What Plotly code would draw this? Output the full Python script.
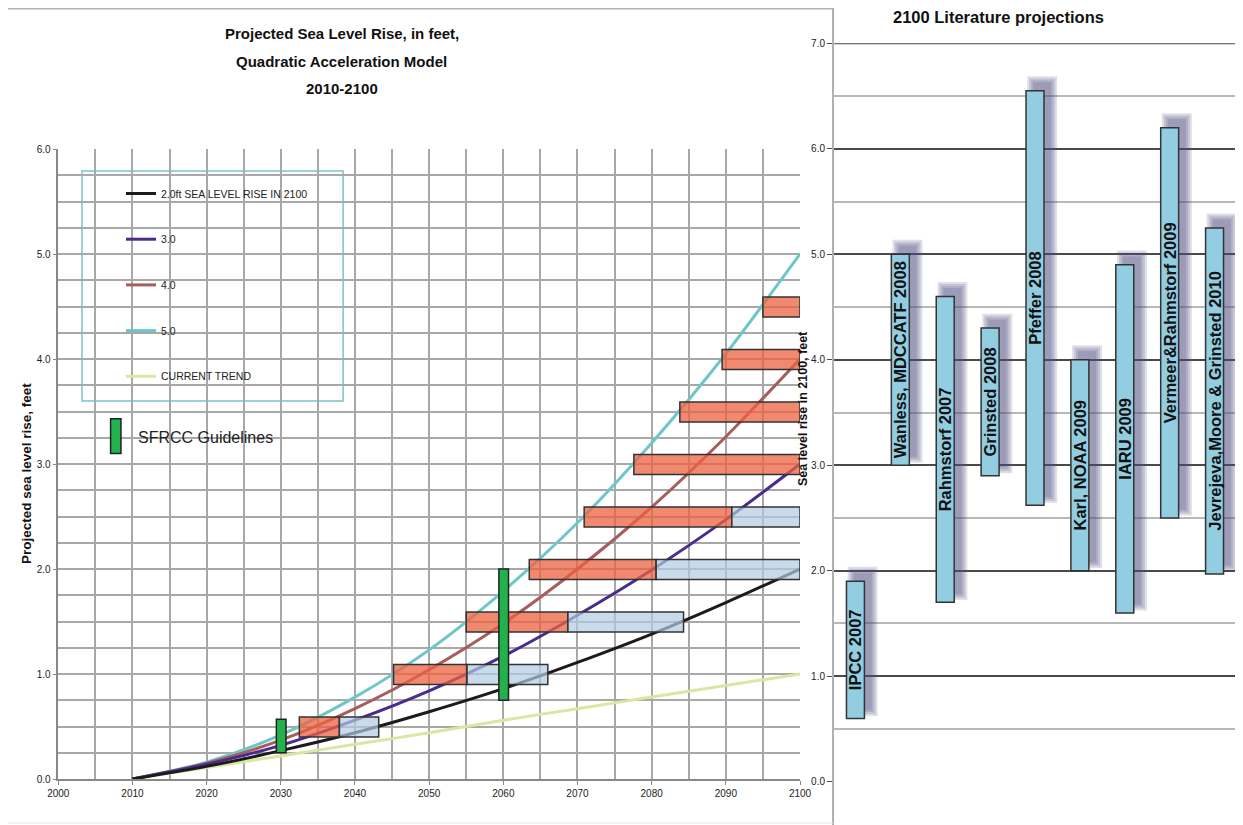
import plotly.graph_objects as go

W, H = 1243, 825

# left chart: quadratic acceleration curves, read every 10 years
years = [2010, 2020, 2030, 2040, 2050, 2060, 2070, 2080, 2090, 2100]
rise_2ft = [0.0, 0.12, 0.27, 0.44, 0.64, 0.86, 1.11, 1.38, 1.68, 2.0]
rise_3ft = [0.0, 0.14, 0.32, 0.56, 0.84, 1.17, 1.56, 1.99, 2.47, 3.0]
rise_4ft = [0.0, 0.15, 0.37, 0.67, 1.04, 1.48, 2.0, 2.59, 3.26, 4.0]
rise_5ft = [0.0, 0.16, 0.42, 0.78, 1.23, 1.79, 2.44, 3.2, 4.05, 5.0]
rise_trend = [0.0, 0.11, 0.22, 0.33, 0.44, 0.56, 0.67, 0.78, 0.89, 1.0]

# timing boxes: year each level is reached on the 5 ft, 3 ft and 2 ft curves
box_levels = [0.5, 1.0, 1.5, 2.0, 2.5, 3.0, 3.5, 4.0, 4.5]
box_start = [2032.5, 2045.2, 2055.0, 2063.5, 2070.9, 2077.6, 2083.8, 2089.5, 2095.0]
box_split = [2037.9, 2055.1, 2068.7, 2080.6, 2090.8, 2100, 2100, 2100, 2100]
box_end = [2043.2, 2066.0, 2084.3, 2100, 2100, 2100, 2100, 2100, 2100]

# SFRCC guideline ranges
sfrcc_years = [2030, 2060]
sfrcc_low = [0.25, 0.75]
sfrcc_high = [0.57, 2.0]

# right chart: 2100 literature projections
studies = ["IPCC 2007", "Wanless, MDCCATF 2008", "Rahmstorf 2007", "Grinsted 2008",
           "Pfeffer 2008", "Karl, NOAA 2009", "IARU 2009", "Vermeer&Rahmstorf 2009",
           "Jevrejeva,Moore & Grinsted 2010"]
study_low = [0.6, 3.0, 1.7, 2.9, 2.62, 2.0, 1.6, 2.5, 1.97]
study_high = [1.9, 5.0, 4.6, 4.3, 6.55, 4.0, 4.9, 6.2, 5.25]

# the page puts the figure 8px in from the top-left corner
OFF = 8


def px(x):
    return (x - OFF) / W


def py(y):
    return min(1.0, 1 - (y - OFF) / H)


FONT = "Liberation Sans, Arial"

fig = go.Figure()

curves = [
    ("CURRENT TREND", rise_trend, "#d9e7a3", 5),
    ("5.0", rise_5ft, "#6fc6c6", 4),
    ("4.0", rise_4ft, "#a85d5d", 3),
    ("3.0", rise_3ft, "#4a2b8e", 2),
    ("2.0ft SEA LEVEL RISE IN 2100", rise_2ft, "#1b1b1b", 1),
]
for name, vals, color, rank in curves:
    fig.add_trace(go.Scatter(
        x=years, y=vals, name=name, mode="lines",
        line=dict(color=color, width=3, shape="spline", smoothing=0.8),
        legendgroup=name, legendrank=rank, xaxis="x", yaxis="y",
    ))

# shadows for the literature bars (a few soft layers shifted up-right)
bar_w = 0.4
shift_x = 0.16
shift_y = 0.08
for e in [6, 4, 2, 0]:
    ex = e / 44.9
    ey = e / 105.5
    fig.add_trace(go.Bar(
        x=studies,
        base=[lo + shift_y - ey for lo in study_low],
        y=[hi - lo + 2 * ey for lo, hi in zip(study_low, study_high)],
        width=bar_w + 2 * ex, offset=-bar_w / 2 + shift_x - ex,
        marker=dict(color="rgba(75,80,125,0.18)", line=dict(width=0)),
        showlegend=False, hoverinfo="skip", xaxis="x2", yaxis="y2",
    ))

fig.add_trace(go.Bar(
    x=studies,
    base=study_low,
    y=[hi - lo for lo, hi in zip(study_low, study_high)],
    width=bar_w, offset=-bar_w / 2,
    marker=dict(color="#92cde1", line=dict(color="#333333", width=1.5)),
    text=studies, textposition="inside", insidetextanchor="middle", textangle=-90,
    textfont=dict(family=FONT, size=16.5, color="#111111", weight="bold"),
    showlegend=False, xaxis="x2", yaxis="y2",
))

shapes = []
# legend frame (between grid and traces)
shapes.append(dict(type="rect", xref="x", yref="y", x0=2003.2, x1=2038.4, y0=3.6, y1=5.79,
                   fillcolor="white", line=dict(color="#7cc4c4", width=1.5), layer="below"))
# timing boxes
half_lo, half_hi = 0.1, 0.09
for lvl, a, b, c in zip(box_levels, box_start, box_split, box_end):
    shapes.append(dict(type="rect", xref="x", yref="y", x0=a, x1=b, y0=lvl - half_lo, y1=lvl + half_hi,
                       fillcolor="rgba(236,98,64,0.75)", line=dict(color="#333333", width=1.5),
                       layer="above"))
    if c > b:
        shapes.append(dict(type="rect", xref="x", yref="y", x0=b, x1=c, y0=lvl - half_lo, y1=lvl + half_hi,
                           fillcolor="rgba(178,202,226,0.7)", line=dict(color="#333333", width=1.5),
                           layer="above"))
# SFRCC bars
for yr, lo, hi in zip(sfrcc_years, sfrcc_low, sfrcc_high):
    shapes.append(dict(type="rect", xref="x", yref="y", x0=yr - 0.6, x1=yr + 0.7, y0=lo, y1=hi,
                       fillcolor="#22b14c", line=dict(color="#222222", width=1.5), layer="above"))
# SFRCC key
shapes.append(dict(type="rect", xref="x", yref="y", x0=2007.05, x1=2008.45, y0=3.1, y1=3.43,
                   fillcolor="#22b14c", line=dict(color="#222222", width=1.5), layer="above"))
# top gridline of the right panel
shapes.append(dict(type="line", xref="x2 domain", yref="y2", x0=0, x1=1, y0=7, y1=7,
                   line=dict(color="#4a4a4a", width=1.8), layer="below"))
# frames
shapes.append(dict(type="line", xref="paper", yref="paper", x0=px(8), x1=px(833), y0=py(8.5), y1=py(8.5),
                   line=dict(color="#b0b0b0", width=2)))
shapes.append(dict(type="line", xref="paper", yref="paper", x0=px(833), x1=px(833), y0=py(5), y1=0,
                   line=dict(color="#b0b0b0", width=2)))
shapes.append(dict(type="line", xref="paper", yref="paper", x0=px(8), x1=px(833), y0=py(823), y1=py(823),
                   line=dict(color="#e6e6e6", width=1)))
shapes.append(dict(type="line", xref="paper", yref="paper", x0=px(1237), x1=px(1237), y0=py(782), y1=py(43),
                   line=dict(color="#c0c0c0", width=2)))

annotations = [
    dict(text="<b>Projected Sea Level Rise, in feet,</b>", x=px(342), y=py(34)),
    dict(text="<b>Quadratic Acceleration Model</b>", x=px(342), y=py(62)),
    dict(text="<b>2010-2100</b>", x=px(342), y=py(89)),
]
for a in annotations:
    a.update(xref="paper", yref="paper", showarrow=False, xanchor="center", yanchor="middle",
             font=dict(family=FONT, size=15, color="#111111"))
annotations += [
    dict(text="<b>2100 Literature projections</b>", x=px(998), y=py(17),
         xref="paper", yref="paper", showarrow=False, xanchor="center", yanchor="middle",
         font=dict(family=FONT, size=16.5, color="#111111")),
    dict(text="<b>Projected sea level rise, feet</b>", x=px(26), y=py(474), textangle=-90,
         xref="paper", yref="paper", showarrow=False, xanchor="center", yanchor="middle",
         font=dict(family=FONT, size=13.5, color="#111111")),
    dict(text="<b>Sea level rise in 2100, feet</b>", x=px(803), y=py(409), textangle=-90,
         xref="paper", yref="paper", showarrow=False, xanchor="center", yanchor="middle",
         font=dict(family=FONT, size=12.5, color="#111111")),
    dict(text="SFRCC Guidelines", x=px(136), y=py(437),
         xref="paper", yref="paper", showarrow=False, xanchor="left", yanchor="middle",
         font=dict(family=FONT, size=16, color="#222222")),
]

grid = "#a8a8a8"
fig.update_layout(
    width=W, height=H,
    margin=dict(l=0, r=0, t=0, b=0, pad=0, autoexpand=False),
    paper_bgcolor="white", plot_bgcolor="white",
    barmode="overlay",
    uniformtext=dict(mode="show", minsize=16.5),
    showlegend=True,
    legend=dict(x=px(121), y=py(179), xanchor="left", yanchor="top",
                bgcolor="rgba(0,0,0,0)", borderwidth=0, tracegroupgap=26.7,
                font=dict(family=FONT, size=10.5, color="#222222")),
    xaxis=dict(domain=[px(58.3), px(800)], range=[2000, 2100], tick0=2000, dtick=10,
               showgrid=True, gridcolor=grid, gridwidth=1.5,
               minor=dict(dtick=5, showgrid=True, gridcolor=grid, gridwidth=1.5),
               ticks="outside", ticklen=4, tickcolor="#888888",
               showline=True, linecolor="#888888", linewidth=1.5, zeroline=False,
               automargin=False,
               tickfont=dict(family=FONT, size=10, color="#222222"), anchor="y"),
    yaxis=dict(domain=[py(779), py(149)], range=[0, 6], dtick=1, tickformat=".1f",
               showgrid=True, gridcolor=grid, gridwidth=1.5,
               minor=dict(dtick=0.25, showgrid=True, gridcolor=grid, gridwidth=1.5),
               ticks="outside", ticklen=4, tickcolor="#888888",
               showline=True, linecolor="#888888", linewidth=1.5, zeroline=False,
               automargin=False,
               tickfont=dict(family=FONT, size=10, color="#222222"), anchor="x"),
    xaxis2=dict(domain=[px(833), px(1237)], range=[-0.5, 8.5], type="category",
                showticklabels=False, showgrid=False, zeroline=False, showline=False,
                ticks="", automargin=False, anchor="y2"),
    yaxis2=dict(domain=[py(781.7), py(43.3)], range=[0, 7], dtick=1, tickformat=".1f",
                showgrid=True, gridcolor="#4a4a4a", gridwidth=1.8,
                minor=dict(dtick=0.5, showgrid=True, gridcolor="#b8b8b8", gridwidth=1.5),
                ticks="outside", ticklen=5, tickcolor="#4a4a4a", zeroline=False,
                showline=False, automargin=False,
                tickfont=dict(family=FONT, size=10, color="#222222"), anchor="x2"),
    shapes=shapes,
    annotations=annotations,
)

fig.write_html("out.html")
